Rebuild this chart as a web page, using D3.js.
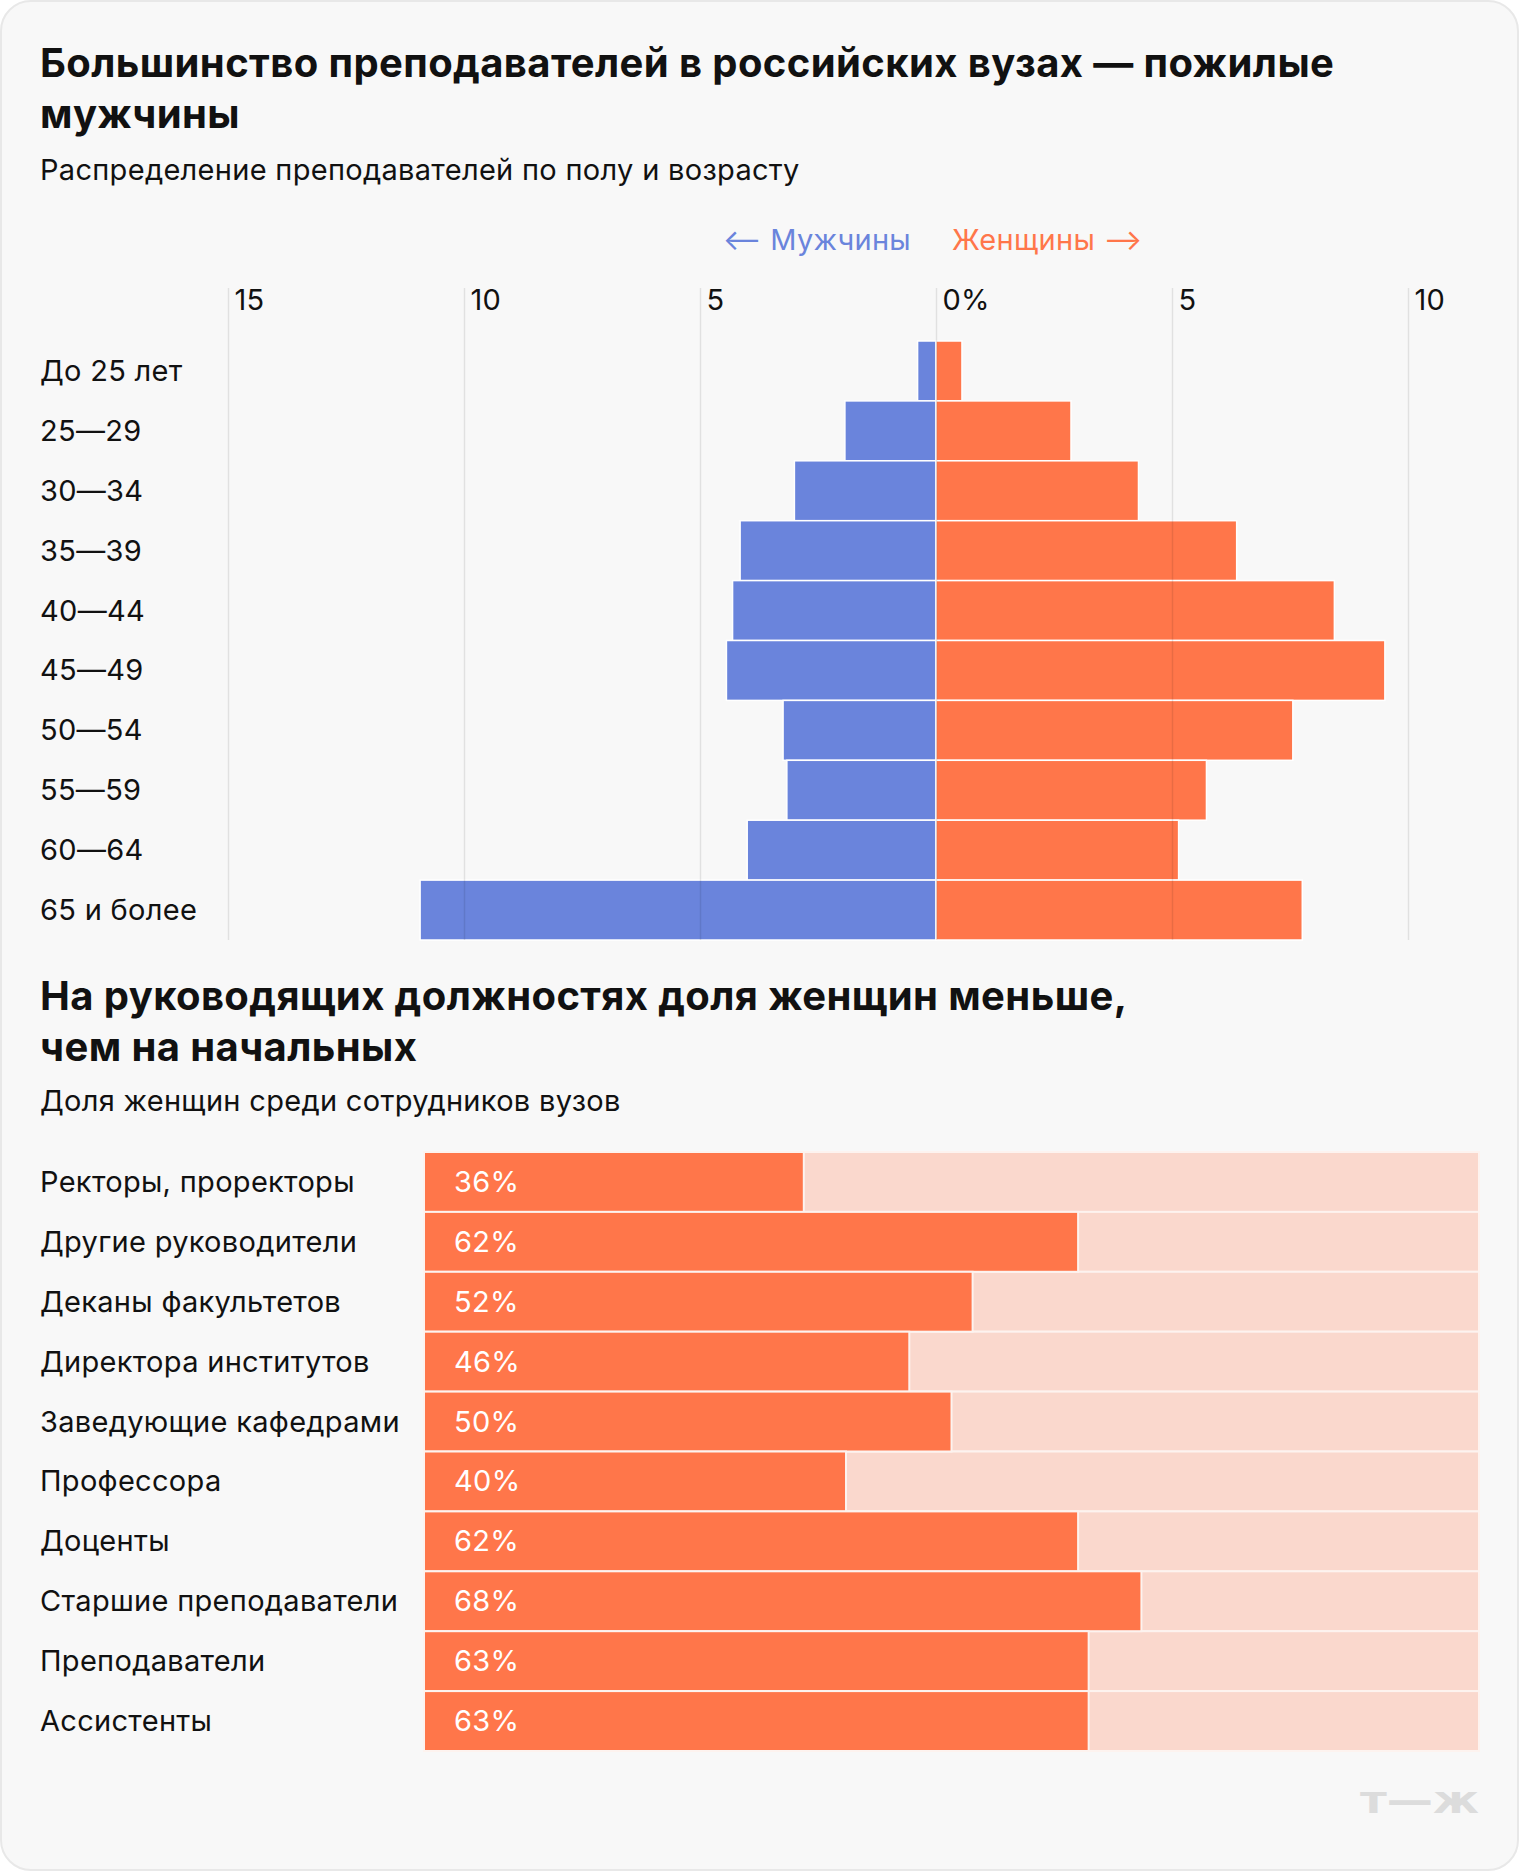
<!DOCTYPE html>
<html><head><meta charset="utf-8">
<script src="https://cdn.jsdelivr.net/npm/d3@7"></script>
<style>
html,body{margin:0;padding:0;background:#fff;}
svg{display:block;font-family:Inter,"Noto Sans",sans-serif;}
</style></head>
<body>
<svg id="chart" width="1520" height="1872"></svg>
<script>
// ---- data ----
const ageGroups = ["До 25 лет","25—29","30—34","35—39","40—44","45—49","50—54","55—59","60—64","65 и более"];
const menValues = [0.39, 1.93, 3.0, 4.15, 4.31, 4.44, 3.24, 3.16, 4.0, 10.93];
const womenValues = [0.55, 2.86, 4.29, 6.37, 8.44, 9.51, 7.56, 5.73, 5.14, 7.76];
const pyramidTicks = [-15, -10, -5, 0, 5, 10];

const positions = ["Ректоры, проректоры","Другие руководители","Деканы факультетов","Директора институтов","Заведующие кафедрами","Профессора","Доценты","Старшие преподаватели","Преподаватели","Ассистенты"];
const womenShare = [36, 62, 52, 46, 50, 40, 62, 68, 63, 63];

const title1 = ["Большинство преподавателей в российских вузах — пожилые","мужчины"];
const subtitle1 = "Распределение преподавателей по полу и возрасту";
const title2 = ["На руководящих должностях доля женщин меньше,","чем на начальных"];
const subtitle2 = "Доля женщин среди сотрудников вузов";

// ---- style ----
const BLUE = "#6a84dc", ORANGE = "#ff764a", PINK = "#fad8cd", TEXT = "#111";
const FS = 29, LS = 0.3;

const svg = d3.select("#chart");
svg.append("rect").attr("x",1).attr("y",1).attr("width",1517).attr("height",1869)
  .attr("rx",30).attr("fill","#f8f8f8").attr("stroke","#e8e8e8").attr("stroke-width",2);

function body(sel){ return sel.attr("font-size",FS).attr("letter-spacing",LS); }

function titleBlock(lines, sub, y0, subY){
  const t = svg.append("text").attr("x",40).attr("y",y0)
    .attr("font-size",40).attr("font-weight",700).attr("fill",TEXT).attr("letter-spacing",0.4);
  lines.forEach((l,i)=> t.append("tspan").attr("x",40).attr("dy", i? 51:0).text(l));
  body(svg.append("text").attr("x",40).attr("y",subY)).attr("fill",TEXT).text(sub);
}
titleBlock(title1, subtitle1, 77, 180);
titleBlock(title2, subtitle2, 1010, 1111);

// ---- pyramid ----
const x = d3.scaleLinear().domain([-15, 10]).range([228, 1408]);
const y = d3.scaleBand().domain(ageGroups).range([341, 940]).paddingInner(0);

// legend
body(svg.append("text").attr("x", x(0)-25).attr("y",250).attr("text-anchor","end"))
  .attr("fill",BLUE).text("⟵ Мужчины");
body(svg.append("text").attr("x", x(0)+16).attr("y",250).attr("text-anchor","start"))
  .attr("fill",ORANGE).text("Женщины ⟶");

const pyr = svg.append("g");
pyr.selectAll("rect.m").data(ageGroups).join("rect").attr("class","m")
  .attr("x", (d,i)=> x(-menValues[i])).attr("y", d=> y(d))
  .attr("width", (d,i)=> x(0)-x(-menValues[i])).attr("height", y.bandwidth())
  .attr("fill", BLUE).attr("stroke","#fff").attr("stroke-width",1.5);
pyr.selectAll("rect.w").data(ageGroups).join("rect").attr("class","w")
  .attr("x", x(0)).attr("y", d=> y(d))
  .attr("width", (d,i)=> x(womenValues[i])-x(0)).attr("height", y.bandwidth())
  .attr("fill", ORANGE).attr("stroke","#fff").attr("stroke-width",1.5);

// axis with gridlines
const axis = d3.axisTop(x).tickValues(pyramidTicks)
  .tickFormat(d=> d===0 ? "0%" : String(Math.abs(d)))
  .tickSize(-(940-288)).tickPadding(0);
const ax = svg.append("g").attr("transform","translate(0,288)").call(axis);
ax.select(".domain").remove();
ax.selectAll(".tick line").attr("stroke","rgba(0,0,0,0.09)").attr("stroke-width",1.5);
ax.selectAll(".tick text").attr("font-size",FS).attr("letter-spacing",LS).attr("fill",TEXT)
  .attr("font-family","Inter,sans-serif")
  .attr("text-anchor","start").attr("x",6).attr("y",22).attr("dy",0);

// row labels
body(svg.append("g").selectAll("text").data(ageGroups).join("text"))
  .attr("x",40).attr("y", d=> y(d)+y.bandwidth()/2 + 10)
  .attr("fill",TEXT).text(d=>d);

// ---- share bars ----
const xs = d3.scaleLinear().domain([0,100]).range([424, 1479]);
const ys = d3.scaleBand().domain(positions).range([1152, 1751]);
const bars = svg.append("g");
bars.selectAll("rect.bg").data(positions).join("rect").attr("class","bg")
  .attr("x", xs(0)).attr("y", d=> ys(d)).attr("width", xs(100)-xs(0)).attr("height", ys.bandwidth())
  .attr("fill", PINK).attr("stroke","#fdf3ef").attr("stroke-width",2);
bars.selectAll("rect.fg").data(positions).join("rect").attr("class","fg")
  .attr("x", xs(0)).attr("y", d=> ys(d)).attr("width", (d,i)=> xs(womenShare[i])-xs(0)).attr("height", ys.bandwidth())
  .attr("fill", ORANGE).attr("stroke","#fdf3ef").attr("stroke-width",2);
body(bars.selectAll("text.v").data(positions).join("text").attr("class","v"))
  .attr("x", xs(0)+30).attr("y", d=> ys(d)+ys.bandwidth()/2+10)
  .attr("fill","#fff").text((d,i)=> womenShare[i]+"%");
body(svg.append("g").selectAll("text").data(positions).join("text"))
  .attr("x",40).attr("y", d=> ys(d)+ys.bandwidth()/2+10)
  .attr("fill",TEXT).text(d=>d);

// logo
svg.append("text").attr("x",1360).attr("y",1813).attr("font-size",38).attr("font-weight",900)
  .attr("font-family","DejaVu Sans, sans-serif").attr("fill","#dcdcdc")
  .attr("textLength",119).attr("lengthAdjust","spacingAndGlyphs").text("т—ж");
</script>
</body></html>
